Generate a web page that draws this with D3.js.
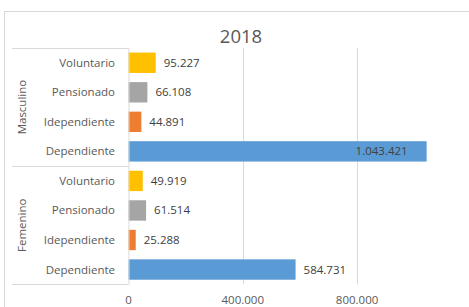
<!DOCTYPE html>
<html><head><meta charset="utf-8">
<script src="https://cdn.jsdelivr.net/npm/d3@7"></script>
<style>
html,body{margin:0;padding:0;background:#fff;overflow:hidden}
text{font-family:"Open Sans","Noto Sans",sans-serif}
</style></head>
<body><svg id="c" width="469" height="307"></svg>
<script>
const title = "2018";
const groups = ["Masculino", "Femenino"];
const categories = ["Voluntario", "Pensionado", "Idependiente", "Dependiente"];
const masculinoValues = [95227, 66108, 44891, 1043421];
const femeninoValues = [49919, 61514, 25288, 584731];
const seriesColors = ["#FFC000", "#A5A5A5", "#ED7D31", "#5B9BD5"];
const tickValues = [0, 400000, 800000];
const tickLabels = ["0", "400.000", "800.000"];

const rows = [];
[masculinoValues, femeninoValues].forEach((vals, gi) => {
  categories.forEach((c, ci) => rows.push({group: groups[gi], cat: c, ci, value: vals[ci], key: groups[gi] + "|" + c}));
});

const svg = d3.select("#c");
const W = 469, H = 307;
const plot = {left: 128.5, right: 471.4, top: 48, bottom: 284.3};

// outer frame
svg.append("rect").attr("x", 4.5).attr("y", 11.5).attr("width", 480).attr("height", 320)
  .attr("fill", "none").attr("stroke", "#d9d9d9").attr("stroke-width", 1);

const x = d3.scaleLinear().domain([0, 1200000]).range([plot.left, plot.right]);
const y = d3.scaleBand().domain(rows.map(r => r.key)).range([plot.top, plot.bottom]).paddingInner(0.31).paddingOuter(0.155);

// gridlines
svg.append("g").selectAll("line").data(tickValues.slice(1)).join("line")
  .attr("x1", d => Math.round(x(d)) + 0.5).attr("x2", d => Math.round(x(d)) + 0.5)
  .attr("y1", plot.top).attr("y2", plot.bottom)
  .attr("stroke", "#d9d9d9").attr("stroke-width", 1);

// bars
svg.append("g").selectAll("rect").data(rows).join("rect")
  .attr("x", x(0)).attr("y", d => y(d.key))
  .attr("width", d => x(d.value) - x(0)).attr("height", y.bandwidth())
  .attr("fill", d => seriesColors[d.ci]);

// data labels
const fmt = v => d3.format(",")(v).replace(/,/g, ".");
const lab = svg.append("g").selectAll("text").data(rows).join("text")
  .attr("y", d => y(d.key) + y.bandwidth() / 2).attr("dy", "0.35em")
  .attr("font-size", 11.5).attr("fill", "#404040").text(d => fmt(d.value));
lab.each(function(d) {
  const w = this.getComputedTextLength();
  const xe = x(d.value);
  if (xe + 8 + w > W - 5) {
    d3.select(this).attr("x", xe - 19).attr("text-anchor", "end");
  } else {
    d3.select(this).attr("x", xe + 8).attr("text-anchor", "start");
  }
});

// category axis area
const axisG = svg.append("g").attr("stroke", "#d9d9d9").attr("stroke-width", 1);
axisG.append("line").attr("x1", plot.left + 0.5).attr("x2", plot.left + 0.5).attr("y1", plot.top).attr("y2", plot.bottom);
const step = y.step();
const groupBounds = groups.map((g, gi) => {
  const keys = rows.filter(r => r.group === g).map(r => r.key);
  return {g, y0: gi === 0 ? plot.top : y(keys[0]) - y.paddingInner() * step / 2,
          y1: gi === groups.length - 1 ? plot.bottom : y(keys[keys.length - 1]) + y.bandwidth() + y.paddingInner() * step / 2};
});
const hLines = [plot.top, ...groupBounds.map(b => b.y1)];
axisG.selectAll("line.h").data(hLines).join("line").attr("class", "h")
  .attr("x1", 12).attr("x2", plot.left)
  .attr("y1", d => Math.round(d) + 0.5).attr("y2", d => Math.round(d) + 0.5);

svg.append("g").selectAll("text").data(rows).join("text")
  .attr("x", 115).attr("y", d => y(d.key) + y.bandwidth() / 2).attr("dy", "0.35em")
  .attr("text-anchor", "end").attr("font-size", 11.5).attr("fill", "#595959").text(d => d.cat);

svg.append("g").selectAll("text").data(groupBounds).join("text")
  .attr("transform", d => `translate(22,${(d.y0 + d.y1) / 2}) rotate(-90)`)
  .attr("dy", "0.35em").attr("text-anchor", "middle")
  .attr("font-size", 11.5).attr("fill", "#595959").text(d => d.g);

// value axis labels
svg.append("g").selectAll("text").data(tickValues).join("text")
  .attr("x", d => x(d)).attr("y", 303.5).attr("text-anchor", "middle")
  .attr("font-size", 11.5).attr("fill", "#595959").text((d, i) => tickLabels[i]);

// title
svg.append("text").attr("x", 241).attr("y", 37).attr("dy", "0.35em").attr("text-anchor", "middle")
  .attr("font-size", 18.5).attr("fill", "#595959").text(title);
</script></body></html>
